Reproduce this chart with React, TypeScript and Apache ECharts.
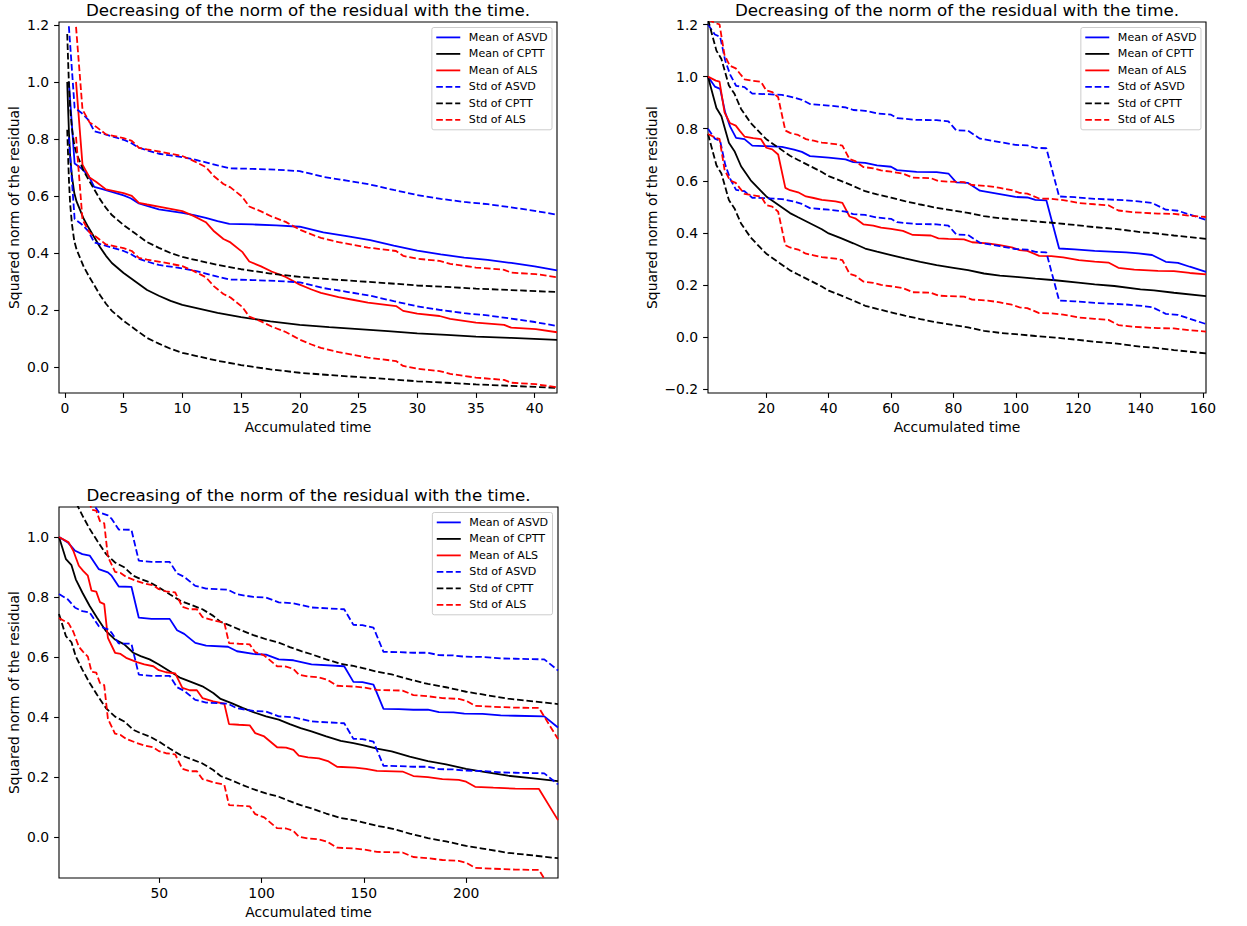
import React, { useEffect, useRef } from "react";
import * as echarts from "echarts";

// ---- Experiment 1 (short run) ----
const t1Asvd = [0.34, 0.83, 1.4, 2.0, 2.5, 3.2, 4.0, 5.0, 5.6, 6.3, 7.0, 8.0, 9.0, 10.0, 11.0, 12.0, 13.0, 14.0, 16.0, 18.0, 20.0, 22.0, 24.0, 26.0, 28.0, 30.0, 32.0, 34.0, 36.0, 38.0, 40.0, 41.9];
const m1Asvd = [1.0, 0.714, 0.697, 0.672, 0.632, 0.624, 0.614, 0.602, 0.592, 0.574, 0.565, 0.553, 0.547, 0.541, 0.533, 0.523, 0.512, 0.502, 0.5, 0.497, 0.492, 0.472, 0.459, 0.445, 0.426, 0.408, 0.395, 0.384, 0.376, 0.365, 0.353, 0.339];
const t1Cptt = [0.2, 0.28, 0.35, 0.45, 0.6, 0.8, 1.0, 1.3, 1.6, 2.0, 2.5, 3.0, 3.5, 4.0, 5.0, 6.0, 7.0, 8.0, 9.0, 10.0, 11.5, 13.0, 15.0, 17.5, 20.0, 22.5, 25.0, 27.5, 30.0, 32.5, 35.0, 38.0, 41.9];
const m1Cptt = [1.0, 0.9, 0.82, 0.74, 0.67, 0.61, 0.58, 0.55, 0.52, 0.49, 0.455, 0.42, 0.39, 0.365, 0.33, 0.3, 0.27, 0.25, 0.232, 0.218, 0.204, 0.19, 0.175, 0.16, 0.148, 0.14, 0.133, 0.126, 0.118, 0.113, 0.107, 0.102, 0.095];
const t1Als = [0.95, 1.5, 2.1, 2.65, 3.5, 5.0, 5.7, 6.3, 7.0, 8.1, 9.0, 10.0, 10.9, 12.0, 12.7, 13.5, 14.1, 15.1, 15.7, 16.7, 17.6, 18.8, 20.0, 21.0, 21.8, 23.3, 24.5, 25.8, 27.0, 28.2, 28.8, 30.0, 31.9, 32.8, 35.0, 37.4, 38.0, 40.1, 41.9];
const m1Als = [1.0, 0.71, 0.665, 0.65, 0.623, 0.61, 0.6, 0.576, 0.57, 0.562, 0.555, 0.547, 0.531, 0.508, 0.476, 0.449, 0.437, 0.404, 0.37, 0.353, 0.335, 0.316, 0.289, 0.272, 0.26, 0.245, 0.236, 0.226, 0.22, 0.214, 0.197, 0.187, 0.179, 0.169, 0.156, 0.148, 0.138, 0.133, 0.122];
const std1 = [0.195, 0.168, 0.193];

// ---- Experiment 2 ----
const t2Asvd = [1.3, 3.5, 5.2, 6.8, 8.4, 10.3, 13, 15.5, 20, 25, 28.9, 31.4, 34, 40, 45.4, 47.9, 51.7, 55.5, 60, 61.9, 68.2, 74.6, 78.4, 80.9, 84.7, 88.5, 94.9, 99.9, 103.7, 106.3, 109.8, 113.9, 118.9, 125.3, 135.4, 139.3, 143.7, 148.1, 152, 155.8, 161];
const m2Asvd = [1.0, 0.962, 0.953, 0.863, 0.808, 0.765, 0.76, 0.735, 0.733, 0.73, 0.72, 0.711, 0.695, 0.689, 0.682, 0.672, 0.669, 0.659, 0.654, 0.641, 0.634, 0.633, 0.628, 0.594, 0.592, 0.562, 0.549, 0.538, 0.536, 0.527, 0.525, 0.34, 0.337, 0.331, 0.325, 0.321, 0.315, 0.289, 0.285, 0.27, 0.25];
const t2Cptt = [1.3, 4.0, 5.6, 8.0, 9.8, 11.9, 15.0, 18.1, 20, 23.8, 27.6, 30.2, 34, 37.8, 40, 44.1, 47.9, 51.7, 55.5, 60, 64.4, 69.4, 74.6, 80, 84.7, 89.8, 94.9, 100, 106.3, 112.6, 120, 125.3, 131.6, 140, 144.3, 150.7, 161];
const m2Cptt = [1.0, 0.88, 0.848, 0.746, 0.714, 0.656, 0.602, 0.563, 0.54, 0.508, 0.476, 0.46, 0.437, 0.414, 0.398, 0.379, 0.36, 0.34, 0.328, 0.315, 0.302, 0.289, 0.276, 0.266, 0.257, 0.244, 0.236, 0.231, 0.224, 0.218, 0.209, 0.202, 0.196, 0.183, 0.179, 0.17, 0.157];
const t2Als = [1.3, 3.8, 5.0, 6.6, 8.3, 10.2, 11.5, 13.0, 15.8, 18.3, 20, 21.9, 23.8, 26.1, 27.6, 30.2, 32.7, 35.2, 37.8, 42.2, 44.4, 46.7, 48.5, 51.1, 54.3, 56.8, 60, 63.8, 67, 72.8, 75.2, 78.4, 83.4, 86, 91, 94.9, 98.7, 101.2, 103.7, 107.5, 111.4, 115.2, 120.2, 125.3, 129.7, 132.9, 138, 145.6, 150.7, 155.8, 161];
const m2Als = [1.0, 0.985, 0.981, 0.863, 0.822, 0.812, 0.792, 0.77, 0.764, 0.76, 0.727, 0.721, 0.701, 0.573, 0.564, 0.556, 0.54, 0.534, 0.527, 0.521, 0.515, 0.463, 0.456, 0.433, 0.428, 0.42, 0.415, 0.408, 0.392, 0.39, 0.379, 0.377, 0.375, 0.364, 0.36, 0.353, 0.344, 0.334, 0.331, 0.312, 0.311, 0.306, 0.295, 0.29, 0.286, 0.266, 0.259, 0.254, 0.253, 0.246, 0.241];
const std2 = [0.2, 0.22, 0.22];

// ---- Experiment 3 (long run) ----
const t3Asvd = [1.0, 5.3, 8.9, 12.4, 16, 20.4, 24.9, 26.7, 30.2, 36.4, 40, 46.2, 55.1, 58.7, 62.2, 67.6, 72.9, 83.6, 88, 96, 102.2, 108.4, 115.6, 124.4, 140.4, 144.9, 149.3, 154.7, 159.6, 167.1, 174.2, 181.3, 186.7, 193.8, 199.1, 208, 216.9, 224, 238.2, 244.9];
const m3Asvd = [1.0, 0.982, 0.954, 0.943, 0.938, 0.893, 0.882, 0.871, 0.835, 0.834, 0.731, 0.727, 0.727, 0.689, 0.677, 0.647, 0.638, 0.634, 0.619, 0.61, 0.608, 0.592, 0.589, 0.575, 0.569, 0.517, 0.516, 0.508, 0.427, 0.426, 0.424, 0.424, 0.416, 0.415, 0.411, 0.41, 0.405, 0.404, 0.402, 0.365];
const t3Cptt = [1.0, 4.4, 7.1, 9.2, 12.4, 16, 19.6, 24, 28.4, 32.9, 37.3, 40.9, 45.3, 49.8, 55.1, 60.4, 65.8, 71.1, 76.4, 80, 85.3, 90.7, 96, 102.2, 108.4, 113.8, 119.1, 124.4, 131.6, 138.7, 144.9, 150, 156.4, 163.6, 172.4, 181.3, 190.2, 200, 208, 220.4, 232.9, 244.9];
const m3Cptt = [1.0, 0.926, 0.906, 0.859, 0.815, 0.77, 0.731, 0.686, 0.658, 0.642, 0.614, 0.603, 0.592, 0.575, 0.552, 0.53, 0.516, 0.502, 0.48, 0.46, 0.446, 0.43, 0.416, 0.402, 0.391, 0.376, 0.363, 0.352, 0.335, 0.32, 0.313, 0.305, 0.294, 0.285, 0.268, 0.253, 0.242, 0.227, 0.218, 0.204, 0.195, 0.186];
const t3Als = [1.0, 5.7, 8.0, 10.7, 12.8, 15.1, 16.9, 19.2, 21, 23.1, 24.9, 28.4, 31.1, 33.8, 39.1, 42.7, 47.1, 49.8, 53.3, 57.8, 61.3, 64.9, 68.4, 71.1, 76.4, 81.8, 84.1, 88.9, 94.2, 96.9, 101.3, 107.6, 112, 115.6, 118.2, 122.7, 128, 132.4, 136.9, 145.8, 151.1, 156.4, 168.9, 174.2, 181.3, 188.4, 196.4, 200, 204.4, 213.3, 224, 235.6, 244.9];
const m3Als = [1.0, 0.982, 0.954, 0.904, 0.887, 0.871, 0.821, 0.818, 0.783, 0.776, 0.664, 0.614, 0.61, 0.597, 0.583, 0.575, 0.569, 0.556, 0.549, 0.545, 0.497, 0.489, 0.489, 0.463, 0.452, 0.444, 0.376, 0.374, 0.372, 0.346, 0.335, 0.299, 0.298, 0.29, 0.271, 0.265, 0.262, 0.253, 0.234, 0.231, 0.227, 0.22, 0.218, 0.203, 0.199, 0.193, 0.19, 0.184, 0.167, 0.164, 0.161, 0.16, 0.056];
const std3 = [0.19, 0.257, 0.27];

// ---- Tick values ----
const xTicks1 = [0, 5, 10, 15, 20, 25, 30, 35, 40];
const yTicks1 = [0, 0.2, 0.4, 0.6, 0.8, 1.0, 1.2];
const xTicks2 = [20, 40, 60, 80, 100, 120, 140, 160];
const yTicks2 = [-0.2, 0, 0.2, 0.4, 0.6, 0.8, 1.0, 1.2];
const xTicks3 = [50, 100, 150, 200];
const yTicks3 = [0, 0.2, 0.4, 0.6, 0.8, 1.0];

const methods = ["ASVD", "CPTT", "ALS"];
const colors = ["#0000ff", "#000000", "#ff0000"];

const TITLE = "Decreasing of the norm of the residual with the time.";
const FONT = '"DejaVu Sans", "Liberation Sans", sans-serif';
const DASH = [6.6, 2.85];
const LW = 1.8;

const SOLID_ICON = "path://M0,0H24V1.8H0Z M27.6,0.9";
const DASH_ICON = "path://M0,0H6.6V1.8H0Z M9.45,0H16.05V1.8H9.45Z M18.9,0H24V1.8H18.9Z M27.6,0.9";

const panels = [
  {
    box: { left: 59, top: 22, width: 498, height: 371 },
    x: [-0.5, 41.9], y: [-0.091, 1.21],
    xTicks: xTicks1, yTicks: yTicks1, yNameGap: 37.6,
    times: [t1Asvd, t1Cptt, t1Als], means: [m1Asvd, m1Cptt, m1Als], stds: std1,
    titleTop: 1, legendRight: 695, legendTop: 27.5,
  },
  {
    box: { left: 708, top: 22, width: 498, height: 371 },
    x: [1.3, 161], y: [-0.215, 1.21],
    xTicks: xTicks2, yTicks: yTicks2, yNameGap: 49,
    times: [t2Asvd, t2Cptt, t2Als], means: [m2Asvd, m2Cptt, m2Als], stds: std2,
    titleTop: 1, legendRight: 46, legendTop: 27.5,
  },
  {
    box: { left: 59, top: 507, width: 499, height: 371 },
    x: [1.0, 244.9], y: [-0.137, 1.1],
    xTicks: xTicks3, yTicks: yTicks3, yNameGap: 37.6,
    times: [t3Asvd, t3Cptt, t3Als], means: [m3Asvd, m3Cptt, m3Als], stds: std3,
    titleTop: 486, legendRight: 694.5, legendTop: 512.5,
  },
];

const fmtY = (v: number) => (v < 0 ? "\u2212" : "") + Math.abs(v).toFixed(1);
const fmtX = (v: number) => String(Math.round(v));

function buildOption() {
  const textBase = { color: "#000", fontFamily: FONT };
  const series: any[] = [];
  panels.forEach((p, pi) => {
    methods.forEach((m, mi) => {
      const t = p.times[mi];
      const mean = p.means[mi];
      series.push({
        type: "line", name: `Mean of ${m}`, xAxisIndex: pi, yAxisIndex: pi,
        data: t.map((x, i) => [x, mean[i]]),
        symbol: "none", showSymbol: false, silent: true,
        itemStyle: { color: colors[mi] },
        lineStyle: { color: colors[mi], width: LW },
      });
    });
    methods.forEach((m, mi) => {
      const t = p.times[mi];
      const mean = p.means[mi];
      const s = p.stds[mi];
      [1, -1].forEach((sign) => {
        series.push({
          type: "line", name: `Std of ${m}`, xAxisIndex: pi, yAxisIndex: pi,
          data: t.map((x, i) => [x, mean[i] + sign * s]),
          symbol: "none", showSymbol: false, silent: true,
          itemStyle: { color: colors[mi] },
          lineStyle: { color: colors[mi], width: LW, type: DASH },
        });
      });
    });
  });

  const legendNames = [
    ...methods.map((m) => ({ name: `Mean of ${m}`, icon: SOLID_ICON })),
    ...methods.map((m) => ({ name: `Std of ${m}`, icon: DASH_ICON })),
  ];

  return {
    animation: false,
    backgroundColor: "#ffffff",
    title: panels.map((p) => ({
      text: TITLE,
      left: p.box.left + p.box.width / 2,
      top: p.titleTop,
      textAlign: "center",
      padding: 0,
      textStyle: { ...textBase, fontSize: 16.7, fontWeight: "normal" },
    })),
    grid: panels.map((p) => ({
      ...p.box,
      show: true,
      borderColor: "#000",
      borderWidth: 1.1,
      backgroundColor: "transparent",
      containLabel: false,
    })),
    xAxis: panels.map((p, pi) => ({
      type: "value", gridIndex: pi, min: p.x[0], max: p.x[1],
      splitLine: { show: false },
      axisLine: { show: false, onZero: false },
      axisTick: { show: true, length: 4.9, lineStyle: { color: "#000", width: 1.1 }, customValues: p.xTicks },
      axisLabel: { customValues: p.xTicks, margin: 8, fontSize: 13.9, ...textBase, formatter: fmtX },
      name: "Accumulated time", nameLocation: "middle", nameGap: 27,
      nameTextStyle: { ...textBase, fontSize: 13.9 },
    })),
    yAxis: panels.map((p, pi) => ({
      type: "value", gridIndex: pi, min: p.y[0], max: p.y[1],
      splitLine: { show: false },
      axisLine: { show: false, onZero: false },
      axisTick: { show: true, length: 4.9, lineStyle: { color: "#000", width: 1.1 }, customValues: p.yTicks },
      axisLabel: { customValues: p.yTicks, margin: 9.8, fontSize: 13.9, ...textBase, formatter: fmtY },
      name: "Squared norm of the residual", nameLocation: "middle", nameRotate: 90, nameGap: p.yNameGap,
      nameTextStyle: { ...textBase, fontSize: 13.9 },
    })),
    legend: panels.map((p) => ({
      orient: "vertical",
      right: p.legendRight,
      top: p.legendTop,
      itemWidth: 27.6,
      itemHeight: 10.7,
      itemGap: 5.5,
      padding: 4.4,
      borderColor: "#cccccc",
      borderWidth: 1,
      borderRadius: 2,
      backgroundColor: "rgba(255,255,255,0.8)",
      selectedMode: false,
      itemStyle: { borderWidth: 0 },
      textStyle: { ...textBase, fontSize: 11.1, lineHeight: 10.7 },
      data: legendNames,
    })),
    series,
  };
}

export default function App() {
  const ref = useRef<HTMLDivElement>(null);
  useEffect(() => {
    if (!ref.current) return;
    const chart = echarts.init(ref.current, undefined, { renderer: "svg" });
    chart.setOption(buildOption() as any);
    return () => chart.dispose();
  }, []);
  return (
    <div
      ref={ref}
      style={{ position: "fixed", left: 0, top: 0, width: 1247, height: 926, background: "#fff" }}
    />
  );
}
